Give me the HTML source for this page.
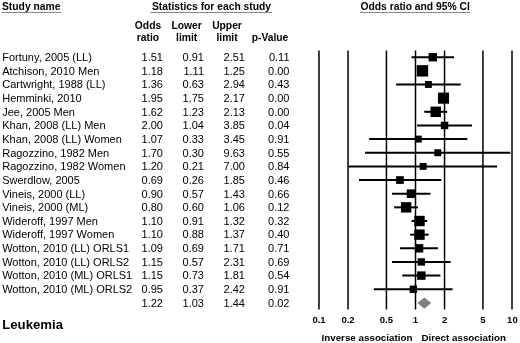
<!DOCTYPE html><html><head><meta charset="utf-8"><style>html,body{margin:0;padding:0;background:#fff;width:520px;height:343px;overflow:hidden}svg{display:block;will-change:transform}text{font-family:"Liberation Sans",sans-serif;fill:#000}.b{font-weight:bold}</style></head><body>
<svg width="520" height="343" viewBox="0 0 520 343">
<text class="b" x="2" y="9.8" font-size="10.3">Study name</text>
<line x1="2" y1="12.5" x2="61" y2="12.5" stroke="#888" stroke-width="1"/>
<text class="b" x="152" y="9.8" font-size="10.3">Statistics for each study</text>
<line x1="150.5" y1="12.5" x2="272" y2="12.5" stroke="#888" stroke-width="1"/>
<text class="b" x="360.5" y="9.8" font-size="10.3">Odds ratio and 95% CI</text>
<line x1="360" y1="12.5" x2="470" y2="12.5" stroke="#888" stroke-width="1"/>
<text class="b" x="148" y="29.4" font-size="10.3" text-anchor="middle">Odds</text>
<text class="b" x="148" y="41" font-size="10.3" text-anchor="middle">ratio</text>
<text class="b" x="186.7" y="29.4" font-size="10.3" text-anchor="middle">Lower</text>
<text class="b" x="186.7" y="41" font-size="10.3" text-anchor="middle">limit</text>
<text class="b" x="227" y="29.4" font-size="10.3" text-anchor="middle">Upper</text>
<text class="b" x="227" y="41" font-size="10.3" text-anchor="middle">limit</text>
<text class="b" x="270" y="41" font-size="10.3" text-anchor="middle">p-Value</text>
<line x1="319.00" y1="50.5" x2="319.00" y2="309.6" stroke="#000" stroke-width="1.5"/>
<line x1="348.05" y1="50.5" x2="348.05" y2="309.6" stroke="#000" stroke-width="1.5"/>
<line x1="386.45" y1="50.5" x2="386.45" y2="309.6" stroke="#000" stroke-width="1.5"/>
<line x1="415.50" y1="50.5" x2="415.50" y2="309.6" stroke="#000" stroke-width="1.5"/>
<line x1="444.55" y1="50.5" x2="444.55" y2="309.6" stroke="#000" stroke-width="1.5"/>
<line x1="482.95" y1="50.5" x2="482.95" y2="309.6" stroke="#000" stroke-width="1.5"/>
<line x1="512.00" y1="50.5" x2="512.00" y2="309.6" stroke="#000" stroke-width="1.5"/>
<text x="2.2" y="61.00" font-size="11">Fortuny, 2005 (LL)</text>
<text x="163.0" y="61.00" font-size="11" text-anchor="end">1.51</text>
<text x="204.0" y="61.00" font-size="11" text-anchor="end">0.91</text>
<text x="245.0" y="61.00" font-size="11" text-anchor="end">2.51</text>
<text x="289.5" y="61.00" font-size="11" text-anchor="end">0.11</text>
<line x1="411.55" y1="57.20" x2="454.07" y2="57.20" stroke="#000" stroke-width="2"/>
<rect x="428.57" y="53.00" width="8.4" height="8.4" fill="#000"/>
<text x="2.2" y="74.65" font-size="11">Atchison, 2010 Men</text>
<text x="163.0" y="74.65" font-size="11" text-anchor="end">1.18</text>
<text x="204.0" y="74.65" font-size="11" text-anchor="end">1.11</text>
<text x="245.0" y="74.65" font-size="11" text-anchor="end">1.25</text>
<text x="289.5" y="74.65" font-size="11" text-anchor="end">0.00</text>
<line x1="419.87" y1="70.85" x2="424.85" y2="70.85" stroke="#000" stroke-width="2"/>
<rect x="416.74" y="65.15" width="11.4" height="11.4" fill="#000"/>
<text x="2.2" y="88.30" font-size="11">Cartwright, 1988 (LL)</text>
<text x="163.0" y="88.30" font-size="11" text-anchor="end">1.36</text>
<text x="204.0" y="88.30" font-size="11" text-anchor="end">0.63</text>
<text x="245.0" y="88.30" font-size="11" text-anchor="end">2.94</text>
<text x="289.5" y="88.30" font-size="11" text-anchor="end">0.43</text>
<line x1="396.14" y1="84.50" x2="460.70" y2="84.50" stroke="#000" stroke-width="2"/>
<rect x="424.94" y="81.05" width="6.9" height="6.9" fill="#000"/>
<text x="2.2" y="101.95" font-size="11">Hemminki, 2010</text>
<text x="163.0" y="101.95" font-size="11" text-anchor="end">1.95</text>
<text x="204.0" y="101.95" font-size="11" text-anchor="end">1.75</text>
<text x="245.0" y="101.95" font-size="11" text-anchor="end">2.17</text>
<text x="289.5" y="101.95" font-size="11" text-anchor="end">0.00</text>
<line x1="438.95" y1="98.15" x2="447.97" y2="98.15" stroke="#000" stroke-width="2"/>
<rect x="437.94" y="92.60" width="11.1" height="11.1" fill="#000"/>
<text x="2.2" y="115.60" font-size="11">Jee, 2005 Men</text>
<text x="163.0" y="115.60" font-size="11" text-anchor="end">1.62</text>
<text x="204.0" y="115.60" font-size="11" text-anchor="end">1.23</text>
<text x="245.0" y="115.60" font-size="11" text-anchor="end">2.13</text>
<text x="289.5" y="115.60" font-size="11" text-anchor="end">0.00</text>
<line x1="424.18" y1="111.80" x2="447.19" y2="111.80" stroke="#000" stroke-width="2"/>
<rect x="430.52" y="106.60" width="10.4" height="10.4" fill="#000"/>
<text x="2.2" y="129.25" font-size="11">Khan, 2008 (LL) Men</text>
<text x="163.0" y="129.25" font-size="11" text-anchor="end">2.00</text>
<text x="204.0" y="129.25" font-size="11" text-anchor="end">1.04</text>
<text x="245.0" y="129.25" font-size="11" text-anchor="end">3.85</text>
<text x="289.5" y="129.25" font-size="11" text-anchor="end">0.04</text>
<line x1="417.14" y1="125.45" x2="472.00" y2="125.45" stroke="#000" stroke-width="2"/>
<rect x="440.85" y="121.75" width="7.4" height="7.4" fill="#000"/>
<text x="2.2" y="142.90" font-size="11">Khan, 2008 (LL) Women</text>
<text x="163.0" y="142.90" font-size="11" text-anchor="end">1.07</text>
<text x="204.0" y="142.90" font-size="11" text-anchor="end">0.33</text>
<text x="245.0" y="142.90" font-size="11" text-anchor="end">3.45</text>
<text x="289.5" y="142.90" font-size="11" text-anchor="end">0.91</text>
<line x1="369.04" y1="139.10" x2="467.40" y2="139.10" stroke="#000" stroke-width="2"/>
<rect x="414.89" y="135.65" width="6.9" height="6.9" fill="#000"/>
<text x="2.2" y="156.55" font-size="11">Ragozzino, 1982 Men</text>
<text x="163.0" y="156.55" font-size="11" text-anchor="end">1.70</text>
<text x="204.0" y="156.55" font-size="11" text-anchor="end">0.30</text>
<text x="245.0" y="156.55" font-size="11" text-anchor="end">9.63</text>
<text x="289.5" y="156.55" font-size="11" text-anchor="end">0.55</text>
<line x1="365.04" y1="152.75" x2="510.42" y2="152.75" stroke="#000" stroke-width="2"/>
<rect x="434.29" y="149.30" width="6.9" height="6.9" fill="#000"/>
<text x="2.2" y="170.20" font-size="11">Ragozzino, 1982 Women</text>
<text x="163.0" y="170.20" font-size="11" text-anchor="end">1.20</text>
<text x="204.0" y="170.20" font-size="11" text-anchor="end">0.21</text>
<text x="245.0" y="170.20" font-size="11" text-anchor="end">7.00</text>
<text x="289.5" y="170.20" font-size="11" text-anchor="end">0.84</text>
<line x1="348.30" y1="166.40" x2="497.05" y2="166.40" stroke="#000" stroke-width="2"/>
<rect x="419.69" y="162.95" width="6.9" height="6.9" fill="#000"/>
<text x="2.2" y="183.85" font-size="11">Swerdlow, 2005</text>
<text x="163.0" y="183.85" font-size="11" text-anchor="end">0.69</text>
<text x="204.0" y="183.85" font-size="11" text-anchor="end">0.26</text>
<text x="245.0" y="183.85" font-size="11" text-anchor="end">1.85</text>
<text x="289.5" y="183.85" font-size="11" text-anchor="end">0.46</text>
<line x1="359.04" y1="180.05" x2="441.28" y2="180.05" stroke="#000" stroke-width="2"/>
<rect x="396.10" y="176.20" width="7.7" height="7.7" fill="#000"/>
<text x="2.2" y="197.50" font-size="11">Vineis, 2000 (LL)</text>
<text x="163.0" y="197.50" font-size="11" text-anchor="end">0.90</text>
<text x="204.0" y="197.50" font-size="11" text-anchor="end">0.57</text>
<text x="245.0" y="197.50" font-size="11" text-anchor="end">1.43</text>
<text x="289.5" y="197.50" font-size="11" text-anchor="end">0.66</text>
<line x1="391.94" y1="193.70" x2="430.49" y2="193.70" stroke="#000" stroke-width="2"/>
<rect x="406.78" y="189.40" width="8.6" height="8.6" fill="#000"/>
<text x="2.2" y="211.15" font-size="11">Vineis, 2000 (ML)</text>
<text x="163.0" y="211.15" font-size="11" text-anchor="end">0.80</text>
<text x="204.0" y="211.15" font-size="11" text-anchor="end">0.60</text>
<text x="245.0" y="211.15" font-size="11" text-anchor="end">1.06</text>
<text x="289.5" y="211.15" font-size="11" text-anchor="end">0.12</text>
<line x1="394.09" y1="207.35" x2="417.94" y2="207.35" stroke="#000" stroke-width="2"/>
<rect x="400.95" y="202.15" width="10.4" height="10.4" fill="#000"/>
<text x="2.2" y="224.80" font-size="11">Wideroff, 1997 Men</text>
<text x="163.0" y="224.80" font-size="11" text-anchor="end">1.10</text>
<text x="204.0" y="224.80" font-size="11" text-anchor="end">0.91</text>
<text x="245.0" y="224.80" font-size="11" text-anchor="end">1.32</text>
<text x="289.5" y="224.80" font-size="11" text-anchor="end">0.32</text>
<line x1="411.55" y1="221.00" x2="427.14" y2="221.00" stroke="#000" stroke-width="2"/>
<rect x="414.29" y="215.80" width="10.4" height="10.4" fill="#000"/>
<text x="2.2" y="238.45" font-size="11">Wideroff, 1997 Women</text>
<text x="163.0" y="238.45" font-size="11" text-anchor="end">1.10</text>
<text x="204.0" y="238.45" font-size="11" text-anchor="end">0.88</text>
<text x="245.0" y="238.45" font-size="11" text-anchor="end">1.37</text>
<text x="289.5" y="238.45" font-size="11" text-anchor="end">0.40</text>
<line x1="410.14" y1="234.65" x2="428.69" y2="234.65" stroke="#000" stroke-width="2"/>
<rect x="414.29" y="229.45" width="10.4" height="10.4" fill="#000"/>
<text x="2.2" y="252.10" font-size="11">Wotton, 2010 (LL) ORLS1</text>
<text x="163.0" y="252.10" font-size="11" text-anchor="end">1.09</text>
<text x="204.0" y="252.10" font-size="11" text-anchor="end">0.69</text>
<text x="245.0" y="252.10" font-size="11" text-anchor="end">1.71</text>
<text x="289.5" y="252.10" font-size="11" text-anchor="end">0.71</text>
<line x1="399.95" y1="248.30" x2="437.98" y2="248.30" stroke="#000" stroke-width="2"/>
<rect x="414.91" y="244.10" width="8.4" height="8.4" fill="#000"/>
<text x="2.2" y="265.75" font-size="11">Wotton, 2010 (LL) ORLS2</text>
<text x="163.0" y="265.75" font-size="11" text-anchor="end">1.15</text>
<text x="204.0" y="265.75" font-size="11" text-anchor="end">0.57</text>
<text x="245.0" y="265.75" font-size="11" text-anchor="end">2.31</text>
<text x="289.5" y="265.75" font-size="11" text-anchor="end">0.69</text>
<line x1="391.94" y1="261.95" x2="450.59" y2="261.95" stroke="#000" stroke-width="2"/>
<rect x="417.66" y="258.25" width="7.4" height="7.4" fill="#000"/>
<text x="2.2" y="279.40" font-size="11">Wotton, 2010 (ML) ORLS1</text>
<text x="163.0" y="279.40" font-size="11" text-anchor="end">1.15</text>
<text x="204.0" y="279.40" font-size="11" text-anchor="end">0.73</text>
<text x="245.0" y="279.40" font-size="11" text-anchor="end">1.81</text>
<text x="289.5" y="279.40" font-size="11" text-anchor="end">0.54</text>
<line x1="402.31" y1="275.60" x2="440.37" y2="275.60" stroke="#000" stroke-width="2"/>
<rect x="417.16" y="271.40" width="8.4" height="8.4" fill="#000"/>
<text x="2.2" y="293.05" font-size="11">Wotton, 2010 (ML) ORLS2</text>
<text x="163.0" y="293.05" font-size="11" text-anchor="end">0.95</text>
<text x="204.0" y="293.05" font-size="11" text-anchor="end">0.37</text>
<text x="245.0" y="293.05" font-size="11" text-anchor="end">2.42</text>
<text x="289.5" y="293.05" font-size="11" text-anchor="end">0.91</text>
<line x1="373.83" y1="289.25" x2="452.54" y2="289.25" stroke="#000" stroke-width="2"/>
<rect x="409.65" y="285.55" width="7.4" height="7.4" fill="#000"/>
<text x="163.0" y="306.70" font-size="11" text-anchor="end">1.22</text>
<text x="204.0" y="306.70" font-size="11" text-anchor="end">1.03</text>
<text x="245.0" y="306.70" font-size="11" text-anchor="end">1.44</text>
<text x="289.5" y="306.70" font-size="11" text-anchor="end">0.02</text>
<polygon points="417.40,303.10 424.30,297.50 431.20,303.10 424.30,308.70" fill="#808080"/>
<text class="b" x="319.00" y="322.8" font-size="9.5" text-anchor="middle">0.1</text>
<text class="b" x="348.05" y="322.8" font-size="9.5" text-anchor="middle">0.2</text>
<text class="b" x="386.45" y="322.8" font-size="9.5" text-anchor="middle">0.5</text>
<text class="b" x="415.50" y="322.8" font-size="9.5" text-anchor="middle">1</text>
<text class="b" x="444.55" y="322.8" font-size="9.5" text-anchor="middle">2</text>
<text class="b" x="482.95" y="322.8" font-size="9.5" text-anchor="middle">5</text>
<text class="b" x="512.40" y="322.8" font-size="9.5" text-anchor="middle">10</text>
<text class="b" x="321.5" y="340.6" font-size="9.8">Inverse association</text>
<text class="b" x="421.5" y="340.6" font-size="9.8">Direct association</text>
<text class="b" x="2.2" y="328.5" font-size="13.2">Leukemia</text>
</svg></body></html>
